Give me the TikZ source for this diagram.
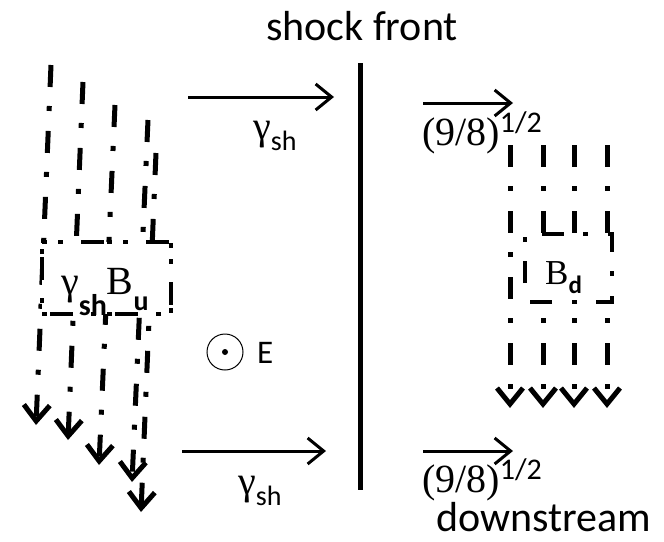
\documentclass[tikz,border=0pt]{standalone}
\usepackage{fontspec}
\setmainfont{Carlito}
\newfontfamily\sergr{Liberation Serif}
\usetikzlibrary{arrows.meta}
\newcommand{\gshlbl}{{\sergr\fontsize{40}{40}\selectfont γ}\raisebox{-11pt}{\fontsize{28}{28}\selectfont sh}}
\newcommand{\ninelbl}{{\sergr\fontsize{40}{40}\selectfont (9/8)}\raisebox{13pt}{\fontsize{30}{30}\selectfont 1/2}}
\tikzset{
  fline/.style={line width=5pt, dash pattern=on 22pt off 19pt on 5pt off 20pt,
    -{Straight Barb[length=16pt,width=26pt]}},
  harr/.style={line width=3pt, -{Straight Barb[length=16pt,width=26pt]}},
  lbl/.style={inner sep=0pt, anchor=base west},
  lbox/.style={fill=white, line width=4.5pt,
    dash pattern=on 5pt off 11pt on 5pt off 18pt on 23pt off 3pt},
  rbox/.style={fill=white, line width=4.5pt,
    dash pattern=on 22pt off 19pt on 5pt off 20pt, dash phase=47pt},
}
\begin{document}
\begin{tikzpicture}[x=1pt,y=-1pt]
\useasboundingbox (0,0) rectangle (664,541);

% shock front line
\coordinate (sfTop) at (360,63);
\coordinate (sfBot) at (360,490);
\draw[line width=5pt] (sfTop) -- (sfBot);
\node[lbl, font=\fontsize{42}{42}\selectfont] (shock) at (266,40) {shock front};

% horizontal velocity arrows
\coordinate (a1s) at (188,97);  \coordinate (a1e) at (334,97);
\coordinate (a2s) at (182,451); \coordinate (a2e) at (326,451);
\coordinate (a3s) at (423,103); \coordinate (a3e) at (513,103);
\coordinate (a4s) at (423,451); \coordinate (a4e) at (513,451);
\draw[harr] (a1s) -- (a1e);
\draw[harr] (a2s) -- (a2e);
\draw[harr] (a3s) -- (a3e);
\draw[harr] (a4s) -- (a4e);
\node[lbl] (g1) at (253,139) {\gshlbl};
\node[lbl] (g2) at (238,494) {\gshlbl};
\node[lbl] (n1) at (422,145) {\ninelbl};
\node[lbl] (n2) at (422,492) {\ninelbl};
\node[lbl, text depth=0pt, font=\fontsize{42}{42}\selectfont] (down) at (436,531) {downstream};

% E field out of page
\node[circle, draw, line width=1pt, minimum size=36pt, inner sep=0pt] (Ecirc) at (225,352) {};
\node[circle, fill, minimum size=6pt, inner sep=0pt] (Edot) at (Ecirc.center) {};
\node[lbl, font=\fontsize{33}{33}\selectfont] (E) at (257,363) {E};

% upstream field lines
\coordinate (u1s) at (51,65);   \coordinate (u1e) at (36,425);
\coordinate (u2s) at (83,82);   \coordinate (u2e) at (68,440);
\coordinate (u3s) at (115,105); \coordinate (u3e) at (99,465);
\coordinate (u4s) at (148,120); \coordinate (u4e) at (132,482);
\coordinate (u5s) at (156,153); \coordinate (u5e) at (141,512);
\draw[fline] (u1s) -- (u1e);
\draw[fline] (u2s) -- (u2e);
\draw[fline] (u3s) -- (u3e);
\draw[fline] (u4s) -- (u4e);
\draw[fline] (u5s) -- (u5e);
\draw[lbox] (42,242) -- (171,242) -- (171,314) -- (42,314) -- cycle;
\node[lbl] (Bu) at (61,294) {{\sergr\fontsize{40}{40}\selectfont γ}\raisebox{-21pt}{\fontsize{30}{30}\selectfont\bfseries sh}{\sergr\fontsize{40}{40}\selectfont B}\raisebox{-16pt}{\fontsize{28}{28}\selectfont\bfseries u}};

% downstream field lines
\coordinate (d1s) at (510,145); \coordinate (d1e) at (510,408);
\coordinate (d2s) at (543,145); \coordinate (d2e) at (543,408);
\coordinate (d3s) at (574,145); \coordinate (d3e) at (574,408);
\coordinate (d4s) at (607,145); \coordinate (d4e) at (607,408);
\draw[fline] (d1s) -- (d1e);
\draw[fline] (d2s) -- (d2e);
\draw[fline] (d3s) -- (d3e);
\draw[fline] (d4s) -- (d4e);
\draw[rbox] (525,302) -- (525,234) -- (612,234) -- (612,302) -- cycle;
\node[lbl] (Bd) at (545,284) {{\sergr\fontsize{35}{35}\selectfont B}\raisebox{-9pt}{\fontsize{25}{25}\selectfont\bfseries d}};
\end{tikzpicture}
\end{document}
